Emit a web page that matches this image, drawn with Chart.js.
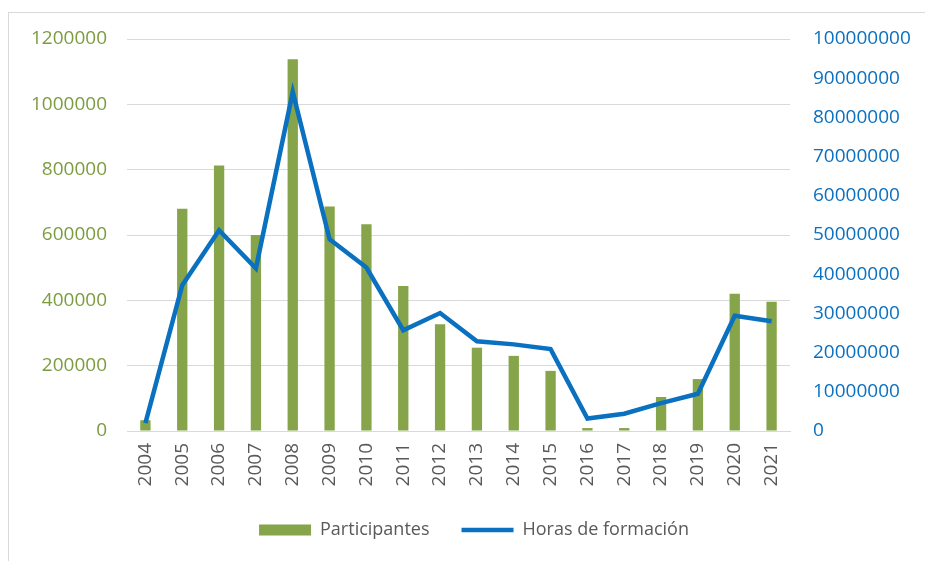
<!DOCTYPE html>
<html>
<head>
<meta charset="utf-8">
<script src="https://cdn.jsdelivr.net/npm/chart.js@4"></script>
<style>
    body { margin: 0; background: #fff; }
    #marco { position: absolute; left: 8px; top: 12px; width: 1000px; height: 1000px; border: 1px solid #d9d9d9; }
    #grafico { position: absolute; left: 0; top: 0; }
</style>
</head>
<body>
<div id="marco"></div>
<canvas id="grafico" width="925" height="561"></canvas>
<script>
// Datos del gráfico
const anios = ['2004', '2005', '2006', '2007', '2008', '2009', '2010', '2011', '2012',
    '2013', '2014', '2015', '2016', '2017', '2018', '2019', '2020', '2021'];
const participantes = [33000, 680000, 813000, 600000, 1138000, 687000, 633000, 444000, 327000,
    255000, 230000, 184000, 9000, 9000, 104000, 159000, 420000, 396000];
const horasFormacion = [2000000, 37200000, 51200000, 41500000, 86500000, 48900000, 41700000, 25700000, 30100000,
    22900000, 22100000, 20900000, 3200000, 4400000, 7100000, 9500000, 29400000, 28000000];
const ticksIzq = [0, 200000, 400000, 600000, 800000, 1000000, 1200000];
const ticksDer = [0, 10000000, 20000000, 30000000, 40000000, 50000000, 60000000, 70000000, 80000000, 90000000, 100000000];

const VERDE = '#86a44a';
const VERDE_TXT = '#7c9c40';
const AZUL = '#0a70c0';
const GRIS_TXT = '#595959';
const FUENTE = 'Open Sans';

const ctx = document.getElementById('grafico');
new Chart(ctx, {
    type: 'bar',
    data: {
        labels: anios,
        datasets: [{
            label: 'Participantes',
            data: participantes,
            backgroundColor: VERDE,
            yAxisID: 'y',
            order: 1,
            categoryPercentage: 1,
            barPercentage: 0.28,
            pointStyle: 'rect'
        }, {
            type: 'line',
            label: 'Horas de formación',
            data: horasFormacion,
            borderColor: AZUL,
            backgroundColor: AZUL,
            borderWidth: 4.5,
            pointRadius: 0,
            pointHoverRadius: 0,
            pointBorderWidth: 4.5,
            pointStyle: 'line',
            tension: 0,
            yAxisID: 'y1',
            order: 0
        }]
    },
    options: {
        responsive: false,
        animation: false,
        layout: { padding: { left: 23, right: 0, top: 39, bottom: 12 } },
        plugins: {
            tooltip: { enabled: false },
            legend: {
                position: 'bottom',
                reverse: true,
                labels: {
                    usePointStyle: true,
                    pointStyleWidth: 52,
                    boxHeight: 11,
                    padding: 32,
                    color: GRIS_TXT,
                    font: { family: FUENTE, size: 18 }
                }
            }
        },
        scales: {
            x: {
                grid: { display: false, drawTicks: false },
                border: { display: true, color: '#d9d9d9' },
                ticks: {
                    minRotation: 90,
                    maxRotation: 90,
                    padding: 12,
                    color: GRIS_TXT,
                    font: { family: FUENTE, size: 19 }
                },
                afterFit(scale) { scale.height = 58; }
            },
            y: {
                position: 'left',
                min: 0,
                max: 1200000,
                grid: { color: '#d9d9d9', drawTicks: false },
                border: { display: false },
                afterBuildTicks(scale) { scale.ticks = ticksIzq.map(v => ({ value: v })); },
                ticks: {
                    padding: 20,
                    color: VERDE_TXT,
                    font: { family: FUENTE, size: 19 },
                    callback: v => String(v)
                },
                afterFit(scale) { scale.width = 104; }
            },
            y1: {
                position: 'right',
                min: 0,
                max: 100000000,
                grid: { display: false, drawTicks: false },
                border: { display: false },
                afterBuildTicks(scale) { scale.ticks = ticksDer.map(v => ({ value: v })); },
                ticks: {
                    padding: 23,
                    color: AZUL,
                    font: { family: FUENTE, size: 19 },
                    callback: v => String(v)
                },
                afterFit(scale) { scale.width = 135; }
            }
        }
    }
});
</script>
</body>
</html>
